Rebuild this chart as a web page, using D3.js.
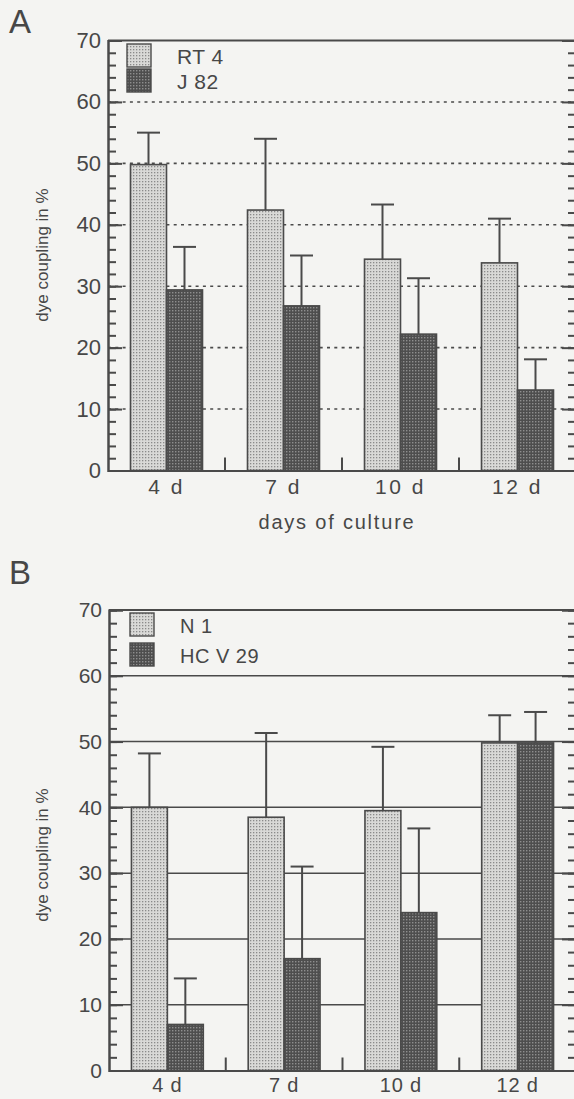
<!DOCTYPE html>
<html>
<head>
<meta charset="utf-8">
<script src="https://cdn.jsdelivr.net/npm/d3@7/dist/d3.min.js"></script>
<style>
  html, body { margin: 0; padding: 0; background: #f4f4f2; }
  svg { display: block; }
  text { font-family: "Liberation Sans", Arial, sans-serif; fill: #474747; }
</style>
</head>
<body>
<svg id="chart" width="574" height="1099"></svg>
<script>
// ---- data ----
const days = ["4 d", "7 d", "10 d", "12 d"];
const seriesA = ["RT 4", "J 82"];
const seriesB = ["N 1", "HC V 29"];
const rt4Mean = [49.8, 42.4, 34.4, 33.8];
const rt4Err  = [55.0, 54.0, 43.3, 41.0];
const j82Mean = [29.4, 26.8, 22.2, 13.1];
const j82Err  = [36.4, 35.0, 31.3, 18.1];
const n1Mean  = [40.0, 38.5, 39.5, 49.8];
const n1Err   = [48.2, 51.3, 49.2, 54.0];
const hcvMean = [7.0, 17.0, 24.0, 49.8];
const hcvErr  = [14.0, 31.0, 36.8, 54.5];
const yMajor = [0, 10, 20, 30, 40, 50, 60, 70];
const yMinor = d3.range(0, 71, 2);

const svg = d3.select("#chart");
const ink = "#4a4a4a";
const FONT = '"Liberation Sans", Arial, sans-serif';

// patterns
const defs = svg.append("defs");
function pattern(id, bg, dot, size) {
  const p = defs.append("pattern").attr("id", id)
    .attr("patternUnits", "userSpaceOnUse").attr("width", 3).attr("height", 3);
  p.append("rect").attr("width", 3).attr("height", 3).attr("fill", bg);
  p.append("rect").attr("x", 1).attr("y", 1).attr("width", size).attr("height", size).attr("fill", dot);
}
pattern("light", "#d9d9d7", "#8a8a8a", 1.3);
pattern("dark", "#4e4e4e", "#8e8e8e", 1.4);
const fills = ["url(#light)", "url(#dark)"];

function panel(opts) {
  const g = svg.append("g");
  const x = d3.scaleBand().domain(days).range([opts.left, opts.right]).paddingInner(0).paddingOuter(0);
  const xs = d3.scaleBand().domain(opts.series).range([0, x.bandwidth()]).paddingInner(0).paddingOuter(0.625);
  const y = d3.scaleLinear().domain([0, 70]).range([opts.bottom, opts.top]);

  // gridlines
  g.append("g").selectAll("line").data(yMajor.filter(v => v > 0 && v < 70)).join("line")
    .attr("x1", opts.left).attr("x2", opts.right)
    .attr("y1", d => y(d)).attr("y2", d => y(d))
    .attr("stroke", ink).attr("stroke-width", opts.dotted ? 1.6 : 1.5)
    .attr("stroke-dasharray", opts.dotted ? "3,4.3" : null);
  // top line
  g.append("line").attr("x1", opts.left).attr("x2", opts.right)
    .attr("y1", y(70)).attr("y2", y(70)).attr("stroke", ink).attr("stroke-width", 2);

  // bars
  const rows = [];
  days.forEach((d, i) => {
    opts.series.forEach((s, j) => {
      rows.push({ day: d, s, j, mean: opts.means[j][i], err: opts.errs[j][i] });
    });
  });
  const bars = g.append("g").selectAll("g").data(rows).join("g");
  bars.append("rect")
    .attr("x", r => x(r.day) + xs(r.s))
    .attr("width", xs.bandwidth())
    .attr("y", r => y(r.mean))
    .attr("height", r => y(0) - y(r.mean))
    .attr("fill", r => fills[r.j])
    .attr("stroke", ink).attr("stroke-width", 1.6);
  // error bars
  bars.append("line")
    .attr("x1", r => x(r.day) + xs(r.s) + xs.bandwidth() / 2)
    .attr("x2", r => x(r.day) + xs(r.s) + xs.bandwidth() / 2)
    .attr("y1", r => y(r.mean)).attr("y2", r => y(r.err))
    .attr("stroke", ink).attr("stroke-width", 2);
  bars.append("line")
    .attr("x1", r => x(r.day) + xs(r.s) + xs.bandwidth() / 2 - 11.5)
    .attr("x2", r => x(r.day) + xs(r.s) + xs.bandwidth() / 2 + 11.5)
    .attr("y1", r => y(r.err)).attr("y2", r => y(r.err))
    .attr("stroke", ink).attr("stroke-width", 2);

  // left axis
  const axL = g.append("g").attr("transform", `translate(${opts.left},0)`);
  axL.call(d3.axisLeft(y).tickValues(yMinor).tickSize(-8).tickFormat(""));
  const axL2 = g.append("g").attr("transform", `translate(${opts.left},0)`);
  axL2.call(d3.axisLeft(y).tickValues(yMajor).tickSize(-14).tickPadding(7).tickFormat(d3.format("d")));
  [axL, axL2].forEach(a => {
    a.select(".domain").attr("stroke", ink).attr("stroke-width", 2);
    a.selectAll(".tick line").attr("stroke", ink).attr("stroke-width", 2);
    a.selectAll(".tick text").style("font-size", opts.tickFont + "px").attr("fill", "#4a4a4a")
      .style("font-family", FONT);
  });
  // right axis
  const axR = g.append("g").attr("transform", `translate(${opts.right},0)`);
  axR.call(d3.axisRight(y).tickValues(yMinor).tickSize(-8).tickFormat(""));
  const axR2 = g.append("g").attr("transform", `translate(${opts.right},0)`);
  axR2.call(d3.axisRight(y).tickValues(yMajor).tickSize(-14).tickFormat(""));
  [axR, axR2].forEach(a => {
    a.select(".domain").attr("stroke", ink).attr("stroke-width", 2);
    a.selectAll(".tick line").attr("stroke", ink).attr("stroke-width", 2);
  });

  // bottom axis
  const axB = g.append("g").attr("transform", `translate(0,${opts.bottom})`);
  axB.call(d3.axisBottom(x).tickSize(0).tickPadding(opts.labelPad));
  axB.select(".domain").attr("stroke", ink).attr("stroke-width", 2.2);
  axB.selectAll(".tick text").style("font-size", opts.xFont + "px").style("letter-spacing", opts.labelSpacing)
    .attr("fill", "#474747").style("font-family", FONT);
  // category separators
  g.append("g").selectAll("line").data(days.slice(1)).join("line")
    .attr("x1", d => x(d)).attr("x2", d => x(d))
    .attr("y1", opts.bottom).attr("y2", opts.bottom - 13)
    .attr("stroke", ink).attr("stroke-width", 2);

  // legend
  const lg = g.append("g");
  opts.series.forEach((s, j) => {
    lg.append("rect").attr("x", opts.legX).attr("y", opts.legY + j * opts.legStep)
      .attr("width", 24).attr("height", 23).attr("fill", fills[j])
      .attr("stroke", ink).attr("stroke-width", 1.4);
    lg.append("text").attr("x", opts.legX + 50).attr("y", opts.legY + j * opts.legStep + 20)
      .style("font-size", opts.legFont + "px").style("letter-spacing", "0.5px").text(s);
  });

  // y label
  g.append("text")
    .attr("transform", `translate(${opts.yLabelX},${opts.yLabelY}) rotate(-90)`)
    .attr("text-anchor", "middle").style("font-size", "17px").text("dye coupling in %");

  // panel letter
  g.append("text").attr("x", 9).attr("y", opts.letterY)
    .style("font-size", "33px").text(opts.letter);
  return { x, y, g };
}

const A = panel({
  letter: "A", letterY: 33,
  left: 108, right: 576, top: 40.5, bottom: 470.5,
  series: seriesA, means: [rt4Mean, j82Mean], errs: [rt4Err, j82Err],
  dotted: true, tickFont: 22, xFont: 21, labelPad: 9, labelSpacing: "2.5px",
  legX: 127, legY: 44, legStep: 25, legFont: 21,
  yLabelX: 48, yLabelY: 255
});
A.g.append("text").attr("x", 337).attr("y", 529).attr("text-anchor", "middle")
  .style("font-size", "20px").style("letter-spacing", "1.8px").text("days of culture");

panel({
  letter: "B", letterY: 584,
  left: 109, right: 576, top: 610, bottom: 1070.5,
  series: seriesB, means: [n1Mean, hcvMean], errs: [n1Err, hcvErr],
  dotted: false, tickFont: 21, xFont: 20, labelPad: 7, labelSpacing: "0.8px",
  legX: 130, legY: 613, legStep: 30, legFont: 20,
  yLabelX: 48, yLabelY: 855
});
</script>
</body>
</html>
